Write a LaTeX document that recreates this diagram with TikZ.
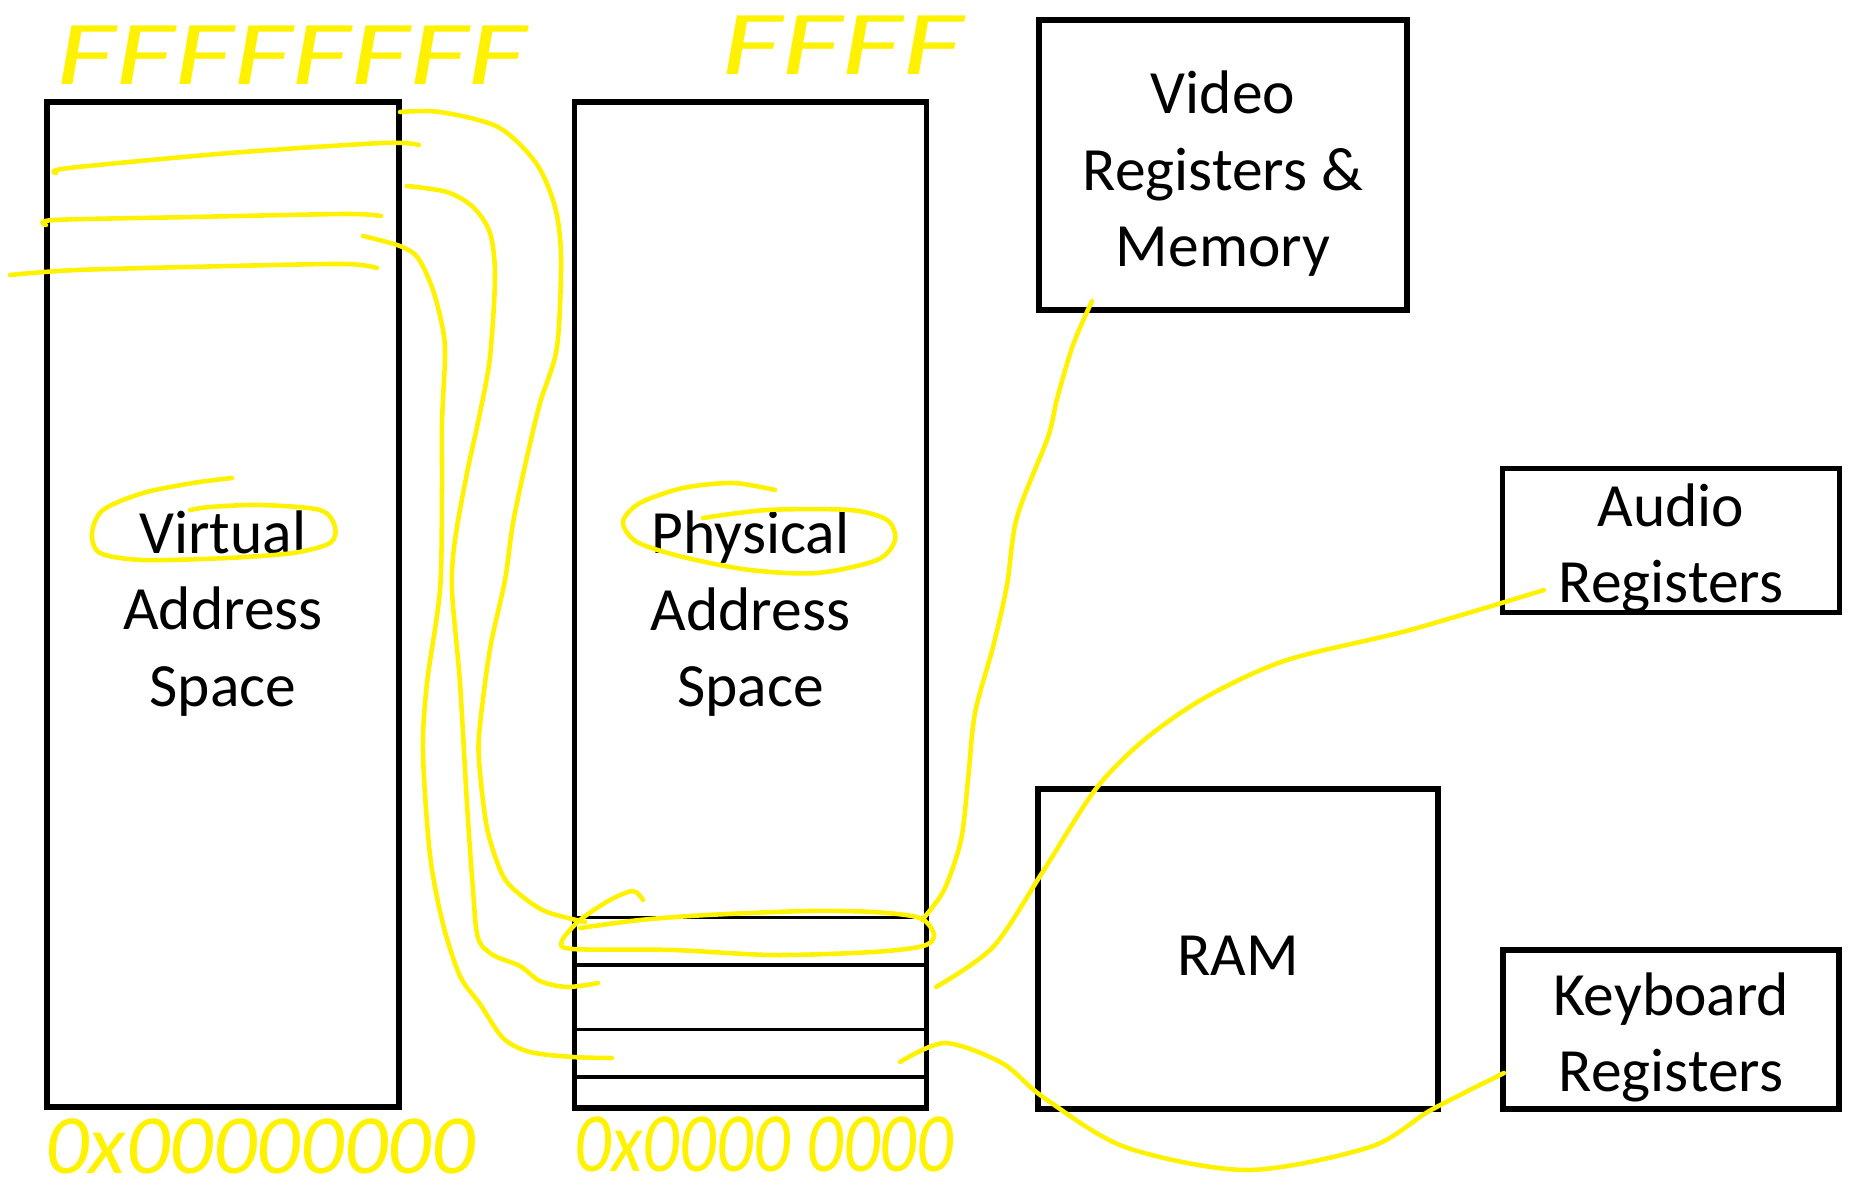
\documentclass[tikz,border=0pt]{standalone}
\usepackage{fontspec}
\setmainfont{Carlito}

\begin{document}
\begin{tikzpicture}[x=0.02cm, y=-0.02cm,
	box/.style={draw, line width=3pt, inner sep=0pt},
	lbl/.style={inner sep=0pt, align=center, font=\fontsize{35}{43.5}\selectfont},
	slot/.style={line width=2.2pt},
	hl/.style={draw=yellow, line width=2.6pt, line cap=round, line join=round},
	hand/.style={text=yellow, inner sep=0pt, font=\fontsize{52}{52}\selectfont\itshape}]
	\useasboundingbox (0,0) rectangle (1849,1191);
	% Boxes:
	\node[box, minimum width=7.04cm, minimum height=20.1cm] (virt) at (223,604.5) {};
	\node[box, minimum width=7.05cm, minimum height=20.12cm] (phys) at (750.5,605) {};
	\node[box, minimum width=7.36cm, minimum height=5.8cm] (video) at (1223,165) {};
	\node[box, minimum width=6.74cm, minimum height=2.88cm] (audio) at (1671,540.5) {};
	\node[box, minimum width=8cm, minimum height=6.4cm] (ram) at (1238,949) {};
	\node[box, minimum width=6.72cm, minimum height=3.18cm] (keyb) at (1671,1029.5) {};
	% Labels:
	\node[lbl] (virtlbl) at ([yshift=-0.18cm]virt.center) {Virtual\\Address\\Space};
	\node[lbl] (physlbl) at ([yshift=-0.18cm]phys.center) {Physical\\Address\\Space};
	\node[lbl] (videolbl) at ([yshift=-0.18cm]video.center) {Video\\Registers \&\\Memory};
	\node[lbl] (audiolbl) at ([yshift=-0.16cm]audio.center) {Audio\\Registers};
	\node[lbl] (ramlbl) at ([yshift=-0.14cm]ram.center) {RAM};
	\node[lbl] (keyblbl) at ([yshift=-0.16cm]keyb.center) {Keyboard\\Registers};
	% Slots at the bottom of the physical space:
	\foreach \y in {917.5, 965, 1029.5, 1077}
		\draw[slot] (574.5,\y) -- (927,\y);
	% Handwritten addresses:
	\node[hand] (vtop) at (292,55) {\scalebox{1.4}[1]{FFFFFFFF}};
	\node[hand] (ptop) at (842,45) {\scalebox{1.44}[1]{FFFF}};
	\node[hand, font=\fontsize{48}{48}\selectfont\itshape] (vbot) at (260,1146) {\scalebox{1.02}[1]{0x00000000}};
	\node[hand, font=\fontsize{48}{48}\selectfont\itshape] (pbot) at (764,1144) {\scalebox{0.86}[1]{0x0000 0000}};
	% Yellow marks:
	\draw[hl] plot[smooth] coordinates {(56,173) (69,168) (230,153) (383,143) (419,145)};
	\draw[hl] plot[smooth] coordinates {(46,225) (54,220) (192,217) (345,214) (381,216)};
	\draw[hl] plot[smooth] coordinates {(10,275) (77,270) (230,266) (345,264) (377,268)};
	\draw[hl] plot[smooth] coordinates {(400,112) (440,112) (498,127) (536,163) (555,207) (561,257) (557,347) (540,403) (527,457) (513,523) (505,580) (490,649) (480,725) (479,760) (487,828) (503,876) (523,897) (547,912) (585,922)};
	\draw[hl] plot[smooth] coordinates {(407,186) (447,192) (473,207) (490,233) (495,277) (490,357) (480,413) (467,473) (455,540) (452,590) (460,683) (467,804) (473,890) (478,938) (493,955) (520,966) (540,981) (567,987) (598,983)};
	\draw[hl] plot[smooth] coordinates {(363,236) (400,246) (418,258) (433,290) (443,330) (445,357) (442,423) (442,490) (440,590) (427,683) (423,752) (430,855) (443,924) (460,976) (480,1004) (503,1038) (530,1052) (573,1057) (612,1058)};
	\draw[hl] plot[smooth] coordinates {(580,928) (640,920) (707,915) (807,911) (873,912) (920,918) (934,935) (923,946) (873,952) (773,955) (673,950) (573,949) (562,941) (580,920) (610,900) (633,891) (643,900)};
	\draw[hl] plot[smooth] coordinates {(922,920) (944,890) (961,840) (968,780) (975,713) (993,647) (1007,585) (1017,517) (1048,437) (1057,399) (1073,345) (1092,301)};
	\draw[hl] plot[smooth] coordinates {(936,987) (993,947) (1042,873) (1095,790) (1144,740) (1206,697) (1287,660) (1410,630) (1544,590)};
	\draw[hl] plot[smooth] coordinates {(900,1062) (945,1043) (1002,1063) (1043,1097) (1125,1147) (1247,1170) (1370,1147) (1431,1110) (1504,1073)};
	\draw[hl] plot[smooth] coordinates {(232,478) (193,483) (143,493) (103,510) (92,533) (100,553) (143,560) (227,558) (293,553) (330,543) (335,527) (320,510) (260,505) (210,507) (190,510)};
	\draw[hl] plot[smooth] coordinates {(775,490) (733,483) (683,488) (640,503) (623,522) (637,542) (683,557) (750,570) (817,573) (877,560) (895,540) (887,520) (850,510) (767,510) (703,518)};
\end{tikzpicture}
\end{document}
